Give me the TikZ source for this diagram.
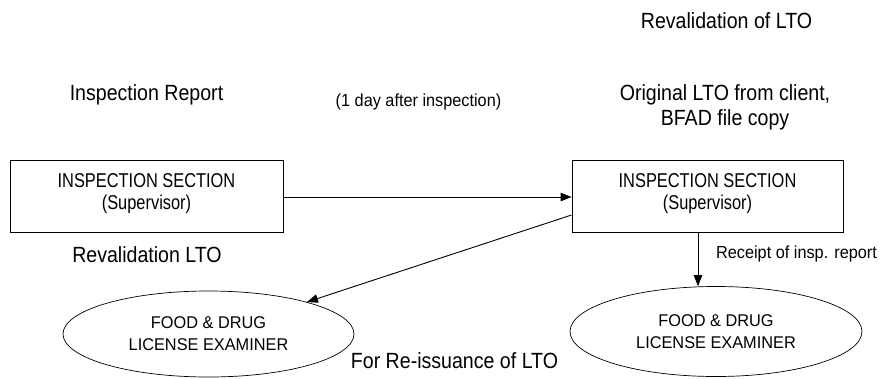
\documentclass[tikz,border=0pt]{standalone}
\usepackage{fontspec}
\setmainfont{Liberation Sans}
\newfontfamily\capfont[FakeStretch=0.89]{Liberation Sans}
\newfontfamily\boxfont[FakeStretch=0.82]{Liberation Sans}
\newfontfamily\smallfont[FakeStretch=0.93]{Liberation Sans}
\newfontfamily\ellfont[FakeStretch=0.96]{Liberation Sans}
\usetikzlibrary{shapes.geometric,arrows.meta,calc}
\begin{document}
\begin{tikzpicture}[x=1pt,y=-1pt,
  boxnode/.style={draw,line width=0.9pt,rectangle,minimum width=273pt,minimum height=72pt,align=center,font=\boxfont\fontsize{20}{21.5}\selectfont,inner sep=0pt},
  ellnode/.style={draw,line width=0.7pt,ellipse,minimum width=291pt,minimum height=86pt,align=center,font=\ellfont\fontsize{17}{22}\selectfont,inner sep=0pt},
  caption/.style={font=\capfont\fontsize{22}{25}\selectfont,align=center,inner sep=0pt},
  small/.style={font=\smallfont\fontsize{17.5}{20}\selectfont,inner sep=0pt},
  flow/.style={line width=0.9pt,-{Triangle[length=11pt,width=8.5pt]}}]
\useasboundingbox (0,0) rectangle (884,378);
\node[boxnode] (lb) at (146.5,196) {INSPECTION SECTION\\(Supervisor)\rule[-9.4pt]{0pt}{9.4pt}};
\node[boxnode,minimum width=271pt] (rb) at (707.5,196) {INSPECTION SECTION\\(Supervisor)\rule[-9.4pt]{0pt}{9.4pt}};
\node[ellnode] (le) at (208.5,334) {FOOD \& DRUG\\LICENSE EXAMINER};
\node[ellnode,minimum width=292pt,minimum height=90pt] (re) at (716,331.5) {FOOD \& DRUG\\LICENSE EXAMINER};
\node[caption,anchor=base] (t1) at (726.5,28.3) {Revalidation of LTO};
\node[caption] (t2) at (725,107) {Original LTO from client,\\BFAD file copy};
\node[caption,anchor=base] (t3) at (146.5,100) {Inspection Report};
\node[small,anchor=base] (t4) at (418.5,106.5) {(1 day after inspection)};
\node[caption,anchor=base] (t5) at (147,262) {Revalidation LTO};
\node[small,anchor=base] (t6) at (796.5,258) {Receipt of insp. report};
\node[caption,anchor=base] (t7) at (454.5,368) {For Re-issuance of LTO};
\draw[flow] (lb.east |- 0,197) coordinate (a1) -- (rb.west |- a1);
\coordinate (d1) at ($(rb.west)+(0,19)$);
\draw[flow] (d1) -- (le.18.4);
\coordinate (v1) at ($(rb.south)+(-9.5,0)$);
\draw[flow] (v1) -- (v1 |- re.north);
\end{tikzpicture}
\end{document}
